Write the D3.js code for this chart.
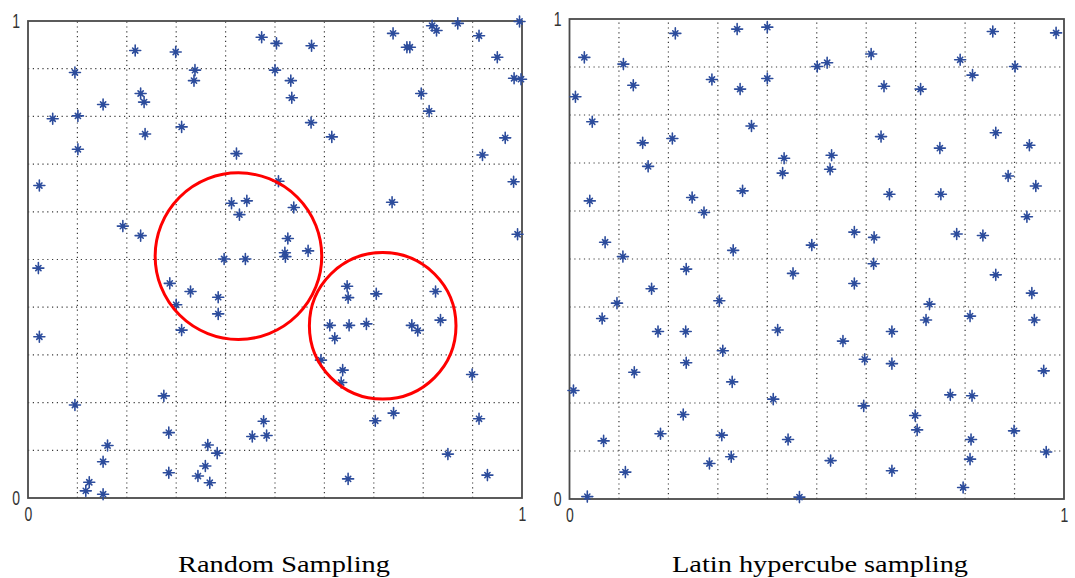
<!DOCTYPE html>
<html>
<head>
<meta charset="utf-8">
<script src="https://cdn.jsdelivr.net/npm/d3@7"></script>
<style>
  html, body { margin: 0; padding: 0; background: #fff; }
  svg { display: block; }
</style>
</head>
<body>
<svg id="chart" width="1075" height="578"></svg>
<script>
// Random sampling: 100 points drawn uniformly on the unit square
const randomX = [0.473,0.503,0.217,0.299,0.095,0.338,0.336,0.500,0.228,0.235,0.152,0.050,0.101,0.311,0.237,0.101,0.422,0.023,0.507,0.412,0.443,0.428,0.192,0.228,0.397,0.440,
  0.574,0.739,0.767,0.773,0.818,0.827,0.870,0.995,0.913,0.950,0.984,0.998,0.532,0.534,0.796,0.812,0.573,0.615,0.966,0.920,0.983,0.538,0.737,0.991,0.526,0.520,0.521,0.567,
  0.021,0.287,0.329,0.385,0.300,0.385,0.311,0.023,0.275,0.095,0.285,0.161,0.152,0.364,0.383,0.359,0.285,0.344,0.368,0.124,0.117,0.152,0.477,0.454,0.483,
  0.646,0.648,0.705,0.825,0.611,0.650,0.685,0.777,0.789,0.835,0.621,0.593,0.637,0.634,0.899,0.703,0.740,0.913,0.850,0.648,0.930];
const randomY = [0.966,0.953,0.938,0.935,0.892,0.897,0.875,0.897,0.848,0.830,0.825,0.795,0.801,0.778,0.763,0.731,0.722,0.655,0.664,0.618,0.623,0.594,0.570,0.550,0.501,0.501,
  0.948,0.974,0.945,0.945,0.990,0.980,0.995,0.999,0.969,0.924,0.880,0.878,0.875,0.839,0.848,0.811,0.787,0.757,0.755,0.719,0.663,0.609,0.620,0.553,0.544,0.514,0.506,0.518,
  0.482,0.450,0.433,0.421,0.405,0.386,0.352,0.338,0.214,0.195,0.137,0.110,0.076,0.111,0.094,0.067,0.053,0.046,0.032,0.033,0.015,0.008,0.161,0.129,0.131,
  0.444,0.420,0.428,0.433,0.362,0.362,0.365,0.362,0.351,0.373,0.335,0.289,0.268,0.242,0.259,0.162,0.178,0.166,0.092,0.040,0.048];

// Latin hypercube sampling: 100 points, one per row and column stratum
const lhsX = [0.030,0.109,0.214,0.339,0.400,0.501,0.012,0.129,0.288,0.345,0.400,0.046,0.368,0.148,0.208,0.434,0.431,0.159,0.041,0.248,0.350,0.272,0.072,0.331,0.490,0.108,
  0.521,0.610,0.856,0.984,0.790,0.815,0.901,0.636,0.710,0.630,0.749,0.862,0.930,0.530,0.527,0.647,0.751,0.887,0.943,0.925,0.576,0.616,0.783,0.836,
  0.236,0.452,0.166,0.096,0.303,0.066,0.179,0.235,0.421,0.310,0.236,0.131,0.329,0.008,0.412,0.230,0.069,0.184,0.308,0.442,0.327,0.283,0.113,0.036,0.465,
  0.615,0.576,0.862,0.935,0.728,0.721,0.810,0.940,0.652,0.553,0.597,0.652,0.959,0.770,0.814,0.595,0.699,0.703,0.812,0.899,0.810,0.964,0.528,0.652,0.796];
const lhsY = [0.920,0.906,0.970,0.979,0.983,0.901,0.838,0.862,0.874,0.854,0.876,0.786,0.777,0.742,0.751,0.710,0.679,0.693,0.621,0.628,0.642,0.597,0.535,0.518,0.529,0.505,
  0.909,0.927,0.974,0.971,0.915,0.883,0.901,0.860,0.854,0.755,0.731,0.763,0.737,0.716,0.687,0.635,0.635,0.673,0.652,0.588,0.556,0.545,0.552,0.549,
  0.479,0.470,0.438,0.408,0.413,0.376,0.349,0.349,0.352,0.309,0.284,0.264,0.244,0.226,0.208,0.176,0.121,0.136,0.133,0.124,0.088,0.074,0.056,0.005,0.004,
  0.490,0.449,0.467,0.429,0.406,0.373,0.381,0.373,0.349,0.329,0.291,0.282,0.267,0.217,0.215,0.194,0.174,0.144,0.124,0.142,0.083,0.098,0.080,0.059,0.024];

// Regions of clustering highlighted on the random sample
const clusterCX = [0.426, 0.718];
const clusterCY = [0.507, 0.361];
const clusterR  = [0.1686, 0.1484];

const tickLabels = ["0", "1"];
const gridValues = [0.1,0.2,0.3,0.4,0.5,0.6,0.7,0.8,0.9];
const titles = ["Random Sampling", "Latin hypercube sampling"];

const svg = d3.select("#chart");

const panels = [
  { xs: randomX, ys: randomY, x0: 28,    x1: 522, y0: 498, y1: 21, title: titles[0], tx: 284, tw: 212, circles: true },
  { xs: lhsX,    ys: lhsY,    x0: 569.5, x1: 1064, y0: 499, y1: 19, title: titles[1], tx: 820, tw: 296, circles: false }
];

const markerColor = "#2c4c9c";
const narrow = 0.7;

// MATLAB-style "*" marker: plus with shorter diagonal strokes
function starPath(cx, cy) {
  const a = 5.5, b = 2.6;
  return `M${cx - a},${cy}H${cx + a}M${cx},${cy - a}V${cy + a}` +
         `M${cx - b},${cy - b}L${cx + b},${cy + b}M${cx - b},${cy + b}L${cx + b},${cy - b}`;
}

panels.forEach(p => {
  const x = d3.scaleLinear().domain([0, 1]).range([p.x0, p.x1]);
  const y = d3.scaleLinear().domain([0, 1]).range([p.y0, p.y1]);
  const g = svg.append("g");

  // dotted grid
  const grid = g.append("g").attr("class", "grid");
  grid.selectAll("line.v").data(gridValues).join("line")
    .attr("x1", d => x(d)).attr("x2", d => x(d))
    .attr("y1", y(0)).attr("y2", y(1))
    .attr("stroke", "#3a3a3a").attr("stroke-width", 1.2)
    .attr("stroke-dasharray", "1.2,3.6");
  grid.selectAll("line.h").data(gridValues).join("line")
    .attr("y1", d => y(d)).attr("y2", d => y(d))
    .attr("x1", x(0)).attr("x2", x(1))
    .attr("stroke", "#3a3a3a").attr("stroke-width", 1.2)
    .attr("stroke-dasharray", "1.2,3.6");

  // axes with only 0 and 1 labelled
  const ax = d3.axisBottom(x).tickValues([0, 1]).tickFormat((d, i) => tickLabels[i]).tickSize(0).tickPadding(9);
  const ay = d3.axisLeft(y).tickValues([0, 1]).tickFormat((d, i) => tickLabels[i]).tickSize(0).tickPadding(8);
  const gx = g.append("g").attr("transform", `translate(0,${y(0)})`).call(ax);
  const gy = g.append("g").attr("transform", `translate(${x(0)},0)`).call(ay);
  [gx, gy].forEach(a => {
    a.select(".domain").remove();
    a.selectAll("text")
      .attr("font-family", "Liberation Sans, Arial, sans-serif")
      .attr("font-size", 20)
      .attr("fill", "#333");
  });
  gx.selectAll(".tick text").attr("transform", `scale(${narrow},1)`);
  gy.selectAll(".tick text").attr("transform", `scale(${narrow},1)`).attr("x", -8 / narrow);

  // frame
  g.append("rect")
    .attr("x", x(0)).attr("y", y(1))
    .attr("width", x(1) - x(0)).attr("height", y(0) - y(1))
    .attr("fill", "none").attr("stroke", "#4a4a4a").attr("stroke-width", 1.8);

  // sample points
  const pts = p.xs.map((v, i) => [v, p.ys[i]]);
  g.append("g").selectAll("path").data(pts).join("path")
    .attr("d", d => starPath(x(d[0]), y(d[1])))
    .attr("stroke", markerColor).attr("stroke-width", 1.6)
    .attr("stroke-linecap", "round").attr("fill", "none");

  if (p.circles) {
    g.append("g").selectAll("circle").data(clusterCX).join("circle")
      .attr("cx", d => x(d))
      .attr("cy", (d, i) => y(clusterCY[i]))
      .attr("r", (d, i) => x(clusterR[i]) - x(0))
      .attr("fill", "none").attr("stroke", "#f00").attr("stroke-width", 3);
  }

  // panel caption
  svg.append("text")
    .attr("x", p.tx).attr("y", 572)
    .attr("text-anchor", "middle")
    .attr("font-family", "Liberation Serif, Times New Roman, serif")
    .attr("font-size", 24)
    .attr("textLength", p.tw).attr("lengthAdjust", "spacingAndGlyphs")
    .attr("fill", "#000")
    .text(p.title);
});
</script>
</body>
</html>
